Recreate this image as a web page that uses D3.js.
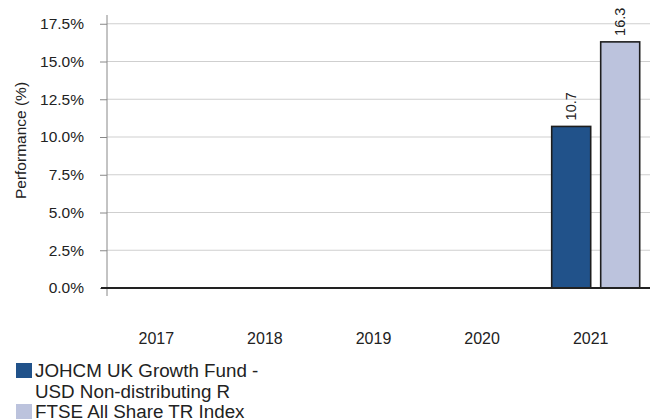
<!DOCTYPE html>
<html>
<head>
<meta charset="utf-8">
<script src="https://cdn.jsdelivr.net/npm/d3@7"></script>
<style>
  body { margin: 0; background: #fff; }
  svg text { font-family: "Liberation Sans", Arial, sans-serif; fill: #222; }
</style>
</head>
<body>
<svg id="chart" width="650" height="419"></svg>
<script>
// data
var years = ["2017", "2018", "2019", "2020", "2021"];
var seriesNames = ["JOHCM UK Growth Fund - USD Non-distributing R", "FTSE All Share TR Index"];
var fundValues = [null, null, null, null, 10.7];
var indexValues = [null, null, null, null, 16.3];
var yTicks = [0, 2.5, 5, 7.5, 10, 12.5, 15, 17.5];
var colors = ["#21528a", "#bcc3dd"];

var svg = d3.select("#chart");
var plotLeft = 107, plotRight = 650, plotTop = 15, zeroY = 288;

var x0 = d3.scaleBand()
    .domain(years)
    .range([plotLeft, plotRight]);

var x1 = d3.scaleBand()
    .domain([0, 1])
    .range([10.3, x0.bandwidth() - 10.3])
    .paddingInner(0.204);

var y = d3.scaleLinear()
    .domain([0, 18.08])
    .range([zeroY, plotTop]);

// gridlines
svg.append("g")
    .selectAll("line")
    .data(yTicks.slice(1))
    .enter()
    .append("line")
    .attr("x1", plotLeft)
    .attr("x2", plotRight)
    .attr("y1", function(d) { return y(d); })
    .attr("y2", function(d) { return y(d); })
    .attr("stroke", "#cfcfcf")
    .attr("stroke-width", 1);

// y axis
var yAxis = svg.append("g")
    .attr("transform", "translate(" + plotLeft + ",0)")
    .call(d3.axisLeft(y).tickValues(yTicks).tickSize(7).tickPadding(16)
        .tickFormat(function(d) { return d3.format(".1f")(d) + "%"; }));
yAxis.select(".domain").remove();
yAxis.selectAll(".tick line").attr("stroke", "#888");
yAxis.selectAll("text").style("font-size", "15.5px").attr("fill", "#222");

svg.append("line")
    .attr("x1", plotLeft).attr("x2", plotLeft)
    .attr("y1", plotTop).attr("y2", zeroY + 8)
    .attr("stroke", "#888").attr("stroke-width", 1);

svg.append("text")
    .attr("transform", "rotate(-90)")
    .attr("x", -(plotTop + zeroY) / 2 + 11)
    .attr("y", 26)
    .attr("text-anchor", "middle")
    .style("font-size", "15.5px")
    .text("Performance (%)");

// bars
var rows = years.map(function(yr, i) {
    return { year: yr, vals: [fundValues[i], indexValues[i]] };
});

var groups = svg.selectAll(".grp")
    .data(rows)
    .enter()
    .append("g")
    .attr("class", "grp")
    .attr("transform", function(d) { return "translate(" + x0(d.year) + ",0)"; });

var bars = groups.selectAll("rect")
    .data(function(d) { return d.vals.map(function(v, k) { return { k: k, v: v }; }).filter(function(e) { return e.v != null; }); })
    .enter();

bars.append("rect")
    .attr("x", function(d) { return x1(d.k); })
    .attr("y", function(d) { return y(d.v); })
    .attr("width", x1.bandwidth())
    .attr("height", function(d) { return y(0) - y(d.v); })
    .attr("fill", function(d) { return colors[d.k]; })
    .attr("stroke", "#1e1e1e")
    .attr("stroke-width", 1.6);

bars.append("text")
    .attr("transform", function(d) {
        return "translate(" + (x1(d.k) + x1.bandwidth() / 2 + 5) + "," + (y(d.v) - 6) + ") rotate(-90)";
    })
    .style("font-size", "14.5px")
    .text(function(d) { return d3.format(".1f")(d.v); });

// zero line
svg.append("line")
    .attr("x1", plotLeft - 6).attr("x2", plotRight)
    .attr("y1", y(0)).attr("y2", y(0))
    .attr("stroke", "#222").attr("stroke-width", 2);

// x labels
svg.append("g")
    .selectAll("text")
    .data(years)
    .enter()
    .append("text")
    .attr("x", function(d) { return x0(d) + x0.bandwidth() / 2 - 5; })
    .attr("y", 344)
    .attr("text-anchor", "middle")
    .style("font-size", "16px")
    .text(function(d) { return d; });

// legend
var legendLines = [
    { swatch: 0, lines: ["JOHCM UK Growth Fund -", "USD Non-distributing R"] },
    { swatch: 1, lines: ["FTSE All Share TR Index"] }
];
var ly = 362;
legendLines.forEach(function(item) {
    svg.append("rect")
        .attr("x", 15.5).attr("y", ly + 0.5)
        .attr("width", 17).attr("height", 16)
        .attr("fill", colors[item.swatch])
        .attr("stroke", "#fff").attr("stroke-width", 1);
    item.lines.forEach(function(t, j) {
        svg.append("text")
            .attr("x", 35)
            .attr("y", ly + 15 + j * 20.5)
            .style("font-size", "18.8px")
            .text(t);
    });
    ly += item.lines.length * 20.5;
});
</script>
</body>
</html>
